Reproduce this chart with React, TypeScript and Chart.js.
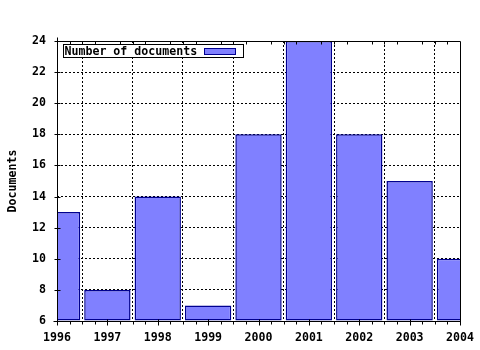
import React, { useEffect, useRef } from "react";
import { Chart, registerables } from "chart.js";

Chart.register(...registerables);

const years = [1996, 1997, 1998, 1999, 2000, 2001, 2002, 2003, 2004];
const documents = [13, 8, 14, 7, 18, 24, 18, 15, 10];
const seriesLabel = "Number of documents";
const yTitle = "Documents";
const yMin = 6;
const yMax = 24;
const yStep = 2;
const xMin = 1996;
const xMax = 2004;
const xMinorPerMajor = 4;

const FONT_FAMILY = "'DejaVu Sans Mono', monospace";
const FONT_SIZE = 11.6;
const BAR_FILL = "#8080ff";
const BAR_BORDER = "#000090";

const framePlugin = {
  id: "framePlugin",
  afterDraw(chart: any) {
    const { ctx, chartArea } = chart;
    const xs = chart.scales.x;
    const ys = chart.scales.y;
    const L = Math.round(chartArea.left) + 0.5;
    const R = Math.round(chartArea.right) + 0.5;
    const T = Math.round(chartArea.top) + 0.5;
    const B = Math.round(chartArea.bottom) + 0.5;
    ctx.save();
    ctx.strokeStyle = "#000";
    ctx.lineWidth = 1;
    ctx.setLineDash([]);
    ctx.beginPath();
    // frame
    ctx.moveTo(L, T - 4);
    ctx.lineTo(L, B + 3);
    ctx.moveTo(L - 4, B);
    ctx.lineTo(R, B);
    ctx.moveTo(L, T);
    ctx.lineTo(R, T);
    ctx.moveTo(R, T);
    ctx.lineTo(R, B);
    // x ticks
    for (let v = xMin; v <= xMax; v++) {
      const px = Math.round(xs.getPixelForValue(v)) + 0.5;
      ctx.moveTo(px, B - 2);
      ctx.lineTo(px, B + 4);
      if (v < xMax) {
        for (let k = 1; k < xMinorPerMajor; k++) {
          const mx = Math.round(xs.getPixelForValue(v + k / xMinorPerMajor)) + 0.5;
          ctx.moveTo(mx, B);
          ctx.lineTo(mx, B + 3);
          ctx.moveTo(mx, T);
          ctx.lineTo(mx, T + 3);
        }
      }
    }
    // y ticks
    for (let v = yMin; v <= yMax; v += yStep) {
      const py = Math.round(ys.getPixelForValue(v)) + 0.5;
      ctx.moveTo(L - 3, py);
      ctx.lineTo(L + 3, py);
    }
    ctx.stroke();

    // legend
    const ds = chart.data.datasets[0];
    const bx = Math.round(chartArea.left) + 6 + 0.5;
    const by = Math.round(chartArea.top) + 3 + 0.5;
    const bw = 180;
    const bh = 13;
    ctx.fillStyle = "#fff";
    ctx.fillRect(bx, by, bw, bh);
    ctx.strokeRect(bx, by, bw, bh);
    ctx.font = `bold ${FONT_SIZE}px ${FONT_FAMILY}`;
    ctx.fillStyle = "#000";
    ctx.textBaseline = "middle";
    ctx.textAlign = "left";
    ctx.fillText(ds.label, bx + 1, by + bh / 2 + 0.5);
    ctx.fillStyle = ds.backgroundColor;
    ctx.fillRect(bx + 141, by + 4, 31, 6);
    ctx.strokeStyle = ds.borderColor;
    ctx.strokeRect(bx + 141, by + 4, 31, 6);
    ctx.restore();
  },
};

export default function App() {
  const canvasRef = useRef<HTMLCanvasElement | null>(null);

  useEffect(() => {
    const canvas = canvasRef.current;
    if (!canvas) return;
    const font = { family: FONT_FAMILY, size: FONT_SIZE, weight: "bold" as const };
    const chart = new Chart(canvas, {
      type: "bar",
      data: {
        datasets: [
          {
            label: seriesLabel,
            data: years.map((x, i) => ({ x, y: documents[i] })),
            backgroundColor: BAR_FILL,
            borderColor: BAR_BORDER,
            borderWidth: 1.5,
            borderSkipped: false,
            barPercentage: 0.92,
            categoryPercentage: 1,
            base: yMin,
            clip: 0,
          } as any,
        ],
      },
      options: {
        animation: false,
        responsive: false,
        devicePixelRatio: 1,
        layout: { padding: { top: 41, right: 20, left: 0, bottom: 0 } },
        plugins: {
          legend: { display: false },
          tooltip: { enabled: false },
        },
        scales: {
          x: {
            type: "linear",
            min: xMin,
            max: xMax,
            offset: false,
            afterFit: (s: any) => {
              s.height = 29;
              s.paddingLeft = 0;
              s.paddingRight = 0;
            },
            grid: { color: "#000", lineWidth: 1, drawTicks: false, borderDash: [2, 2] } as any,
            border: { display: false, dash: [2, 2] },
            ticks: {
              stepSize: 1,
              color: "#000",
              font,
              padding: 10,
              maxRotation: 0,
              autoSkip: false,
              callback: (v: any) => String(v),
            },
          },
          y: {
            type: "linear",
            min: yMin,
            max: yMax,
            afterFit: (s: any) => {
              s.width = 57;
              s.paddingTop = 0;
              s.paddingBottom = 0;
            },
            grid: { color: "#000", lineWidth: 1, drawTicks: false, borderDash: [2, 2] } as any,
            border: { display: false, dash: [2, 2] },
            ticks: {
              stepSize: yStep,
              color: "#000",
              font,
              padding: 11,
              callback: (v: any) => String(v),
            },
            title: {
              display: true,
              text: yTitle,
              color: "#000",
              font,
              padding: { top: 6, bottom: 0 },
            },
          },
        },
      },
      plugins: [framePlugin],
    });
    return () => chart.destroy();
  }, []);

  return (
    <div style={{ position: "absolute", left: 0, top: 0, width: 480, height: 350, background: "#fff" }}>
      <canvas ref={canvasRef} width={480} height={350} style={{ display: "block" }} />
    </div>
  );
}
